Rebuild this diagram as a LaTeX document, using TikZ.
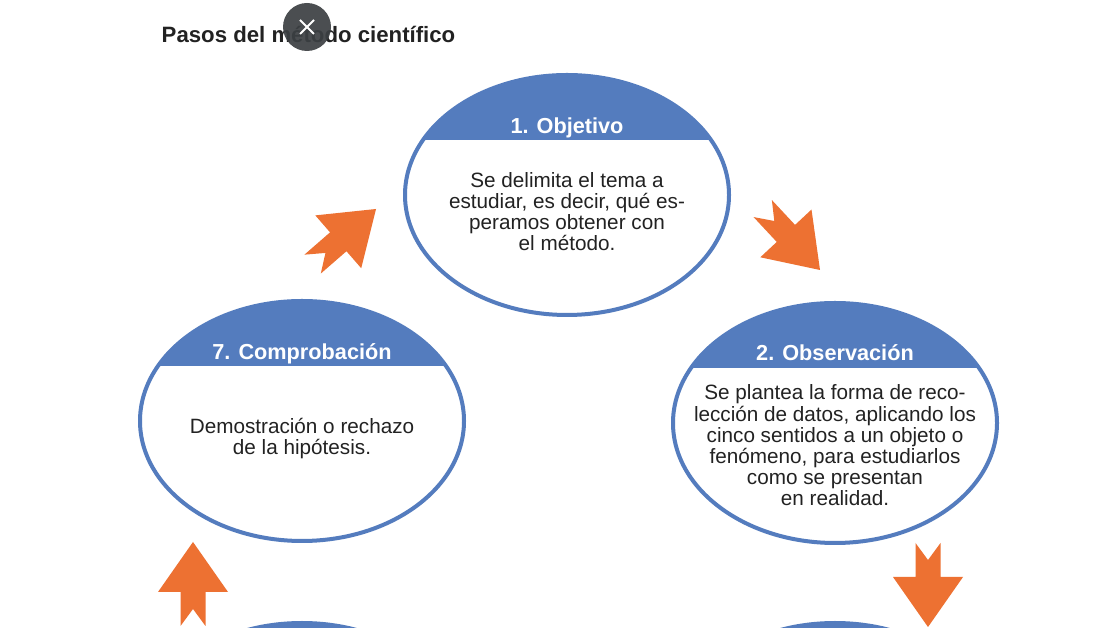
\documentclass[tikz,border=0pt]{standalone}
\usepackage{fontspec}
\setmainfont{Liberation Sans}
\usetikzlibrary{shapes.geometric}
\definecolor{azul}{HTML}{547CBE}
\definecolor{naranja}{HTML}{ED7132}
\definecolor{gris}{HTML}{3C4043}
\definecolor{tinta}{HTML}{222222}

\tikzset{flecha/.pic = {\fill[naranja] (0,0) -- (-50,35) -- (-50,12.5) -- (-84,12.5) -- (-67,0) -- (-84,-12.5) -- (-50,-12.5) -- (-50,-35) -- cycle;}}

\begin{document}
\begin{tikzpicture}[x=1pt, y=1pt,
  paso/.style = {ellipse, draw=azul, line width=4pt, fill=white, minimum width=324pt, minimum height=240pt, inner sep=0pt,
    path picture={\fill[azul] (path picture bounding box.north west) rectangle ([yshift=-65pt]path picture bounding box.north east);}},
  cabeza/.style = {anchor=base, inner sep=0pt, text=white, font=\bfseries\fontsize{21.7}{24}\selectfont},
  texto/.style = {align=center, inner sep=0pt, text=tinta, font=\fontsize{20.7}{21.2}\selectfont}]
\clip (0,0) rectangle (1105,628);
\fill[white] (0,0) rectangle (1105,628);

\node[anchor=base west, inner sep=0pt, text=tinta, font=\bfseries\fontsize{22.2}{26}\selectfont] (titulo) at (161.5,585) {Pasos del método científico};
\node[circle, fill=gris, fill opacity=0.92, minimum size=48pt, inner sep=0pt] (cerrar) at (307,601) {};
\draw[white, line width=1.8pt] ([shift={(-7,-7)}]cerrar.center) -- ([shift={(7,7)}]cerrar.center);
\draw[white, line width=1.8pt] ([shift={(-7,7)}]cerrar.center) -- ([shift={(7,-7)}]cerrar.center);

\node[paso] (obj) at (567,433) {};
\node[paso] (obs) at (835,205) {};
\node[paso] (comp) at (302,207) {};
\node[paso] (p3) at (835,-115) {};
\node[paso] (p6) at (302,-115) {};

\node[cabeza] (obj-t) at ([yshift=-61pt]obj.north) {1. Objetivo};
\node[cabeza] (obs-t) at ([yshift=-60pt]obs.north) {2. Observación};
\node[cabeza] (comp-t) at ([yshift=-61pt]comp.north) {7. Comprobación};

\node[texto] (obj-d) at ([yshift=-16.5pt]obj.center) {Se delimita el tema a\\estudiar, es decir, qué es-\\peramos obtener con\\el método.};
\node[texto] (obs-d) at ([yshift=-22.5pt]obs.center) {Se plantea la forma de reco-\\lección de datos, aplicando los\\cinco sentidos a un objeto o\\fenómeno, para estudiarlos\\como se presentan\\en realidad.};
\node[texto] (comp-d) at ([yshift=-17.5pt]comp.center) {Demostración o rechazo\\de la hipótesis.};

\pic[rotate=41] (f71) at (376,419) {flecha};
\pic[rotate=-47] (f12) at (820,358) {flecha};
\pic[rotate=-90] (f23) at (928,1) {flecha};
\pic[rotate=90] (f67) at (193,86) {flecha};
\end{tikzpicture}
\end{document}
